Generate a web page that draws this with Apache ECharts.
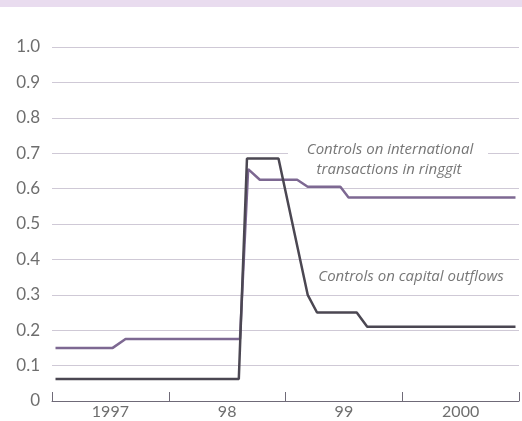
<!DOCTYPE html>
<html>
<head>
<meta charset="utf-8">
<script src="https://cdn.jsdelivr.net/npm/echarts@6/dist/echarts.min.js"></script>
<style>
html,body{margin:0;padding:0;background:#fff;}
#c{width:522px;height:421px;}
</style>
</head>
<body>
<div id="c"></div>
<script>
// Year categories shown on the x axis
var yearLabels = ['1997', '98', '99', '2000'];
// y tick values
var yTicks = [0, 0.1, 0.2, 0.3, 0.4, 0.5, 0.6, 0.7, 0.8, 0.9, 1.0];

// Controls on international transactions in ringgit
var ringgitX = [1997.03, 1997.52, 1997.63, 1998.61, 1998.68, 1998.78, 1999.10, 1999.19, 1999.47, 1999.54, 2000.97];
var ringgitY = [0.15, 0.15, 0.175, 0.175, 0.655, 0.625, 0.625, 0.605, 0.605, 0.575, 0.575];

// Controls on capital outflows
var outflowX = [1997.03, 1998.60, 1998.67, 1998.94, 1999.19, 1999.27, 1999.61, 1999.70, 2000.97];
var outflowY = [0.062, 0.062, 0.685, 0.685, 0.30, 0.25, 0.25, 0.21, 0.21];

function pairs(xs, ys){ return xs.map(function(x,i){ return [x, ys[i]]; }); }

var chart = echarts.init(document.getElementById('c'), null, {renderer:'canvas'});
var labelFont = 'Lato, "Open Sans", sans-serif';
var noteFont = 'italic 15px "Open Sans", sans-serif';
chart.setOption({
  animation: false,
  backgroundColor: '#ffffff',
  grid: {left: 52, right: 3, top: 47, bottom: 20, containLabel: false},
  xAxis: [
    {type: 'value', min: 1997, max: 2001, show: false},
    {type: 'category', data: yearLabels, boundaryGap: true, position: 'bottom',
     axisLine: {show: true, lineStyle: {color: '#6f6a78', width: 1}},
     axisTick: {show: true, inside: true, length: 9, lineStyle: {color: '#6f6a78'}},
     axisLabel: {color: '#6e6e6e', fontSize: 16, fontFamily: labelFont, margin: 3},
     splitLine: {show: false}}
  ],
  yAxis: {
    type: 'value', min: 0, max: 1, interval: 0.1,
    axisLine: {show: false}, axisTick: {show: false},
    axisLabel: {color: '#6e6e6e', fontSize: 17, fontFamily: labelFont, margin: 12,
      formatter: function(v){ return Math.abs(v) < 1e-9 ? '0' : v.toFixed(1); }},
    splitLine: {show: true, lineStyle: {color: '#cfc9d6', width: 1}}
  },
  graphic: [
    {type: 'rect', left: 0, top: 0, shape: {width: 522, height: 7}, style: {fill: '#e9dcef'}, silent: true},
    {type: 'rect', left: 288, top: 142, shape: {width: 200, height: 18}, style: {fill: '#ffffff'}, z: 5},
    {type: 'text', x: 390, y: 150, z: 6, style: {text: 'Controls on international', fill: '#777', font: noteFont, align: 'center', verticalAlign: 'middle'}},
    {type: 'text', x: 389, y: 170, z: 6, style: {text: 'transactions in ringgit', fill: '#777', font: noteFont, align: 'center', verticalAlign: 'middle'}},
    {type: 'text', x: 411, y: 277, z: 6, style: {text: 'Controls on capital outflows', fill: '#777', font: noteFont, align: 'center', verticalAlign: 'middle'}}
  ],
  series: [
    {type: 'line', xAxisIndex: 0, data: pairs(ringgitX, ringgitY), showSymbol: false, symbol: 'none',
     lineStyle: {color: '#7d6892', width: 2.5}, z: 3},
    {type: 'line', xAxisIndex: 0, data: pairs(outflowX, outflowY), showSymbol: false, symbol: 'none',
     lineStyle: {color: '#4b4752', width: 2.5}, z: 4}
  ]
});
</script>
</body>
</html>
